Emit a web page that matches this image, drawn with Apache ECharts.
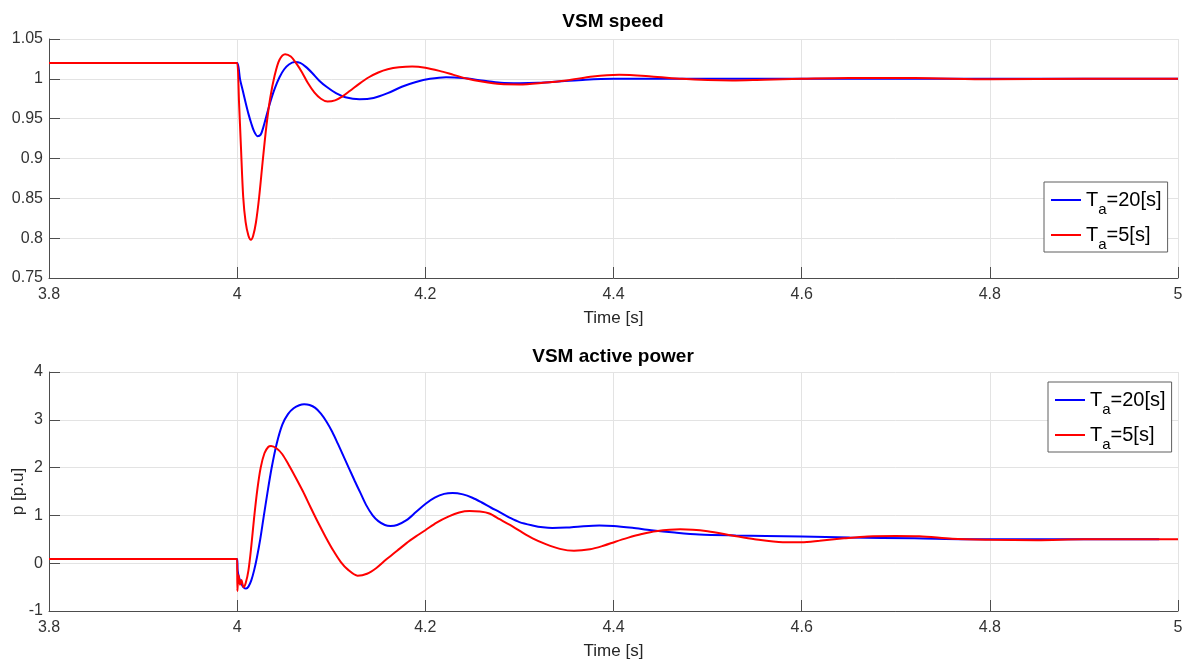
<!DOCTYPE html>
<html lang="en">
<head>
  <meta charset="UTF-8">
  <title>VSM speed / active power</title>
  <style>
    html, body { margin: 0; padding: 0; background: #fff; }
    #chart { width: 1192px; height: 665px; }
  </style>
</head>
<body>
  <div id="chart"></div>

  <script src="https://cdn.jsdelivr.net/npm/echarts@6/dist/echarts.min.js"></script>
  <script>
    // x axis (time, s)
    var timeMin = 3.8, timeMax = 5, timeStep = 0.2;

    // VSM speed, Ta = 20 s
    var speedSlowTime = [3.8, 3.998, 4.0, 4.0015, 4.003, 4.006, 4.009, 4.012, 4.015, 4.018, 4.0216, 4.025, 4.028,
      4.031, 4.035, 4.04, 4.045, 4.05, 4.055, 4.061, 4.067, 4.073, 4.08, 4.087, 4.095, 4.105, 4.115, 4.13, 4.145,
      4.16, 4.175, 4.19, 4.205, 4.222, 4.24, 4.26, 4.28, 4.3, 4.32, 4.345, 4.37, 4.4, 4.5, 4.6, 4.7, 4.8, 4.9, 5.0];
    var speedSlow = [1.02, 1.02, 1.02, 1.014, 1.0, 0.985, 0.97, 0.956, 0.944, 0.934, 0.928, 0.93, 0.94,
      0.953, 0.97, 0.988, 1.002, 1.012, 1.018, 1.021, 1.02, 1.015, 1.007, 0.998, 0.99, 0.982, 0.977, 0.9745, 0.976,
      0.982, 0.99, 0.996, 1.0, 1.002, 1.001, 0.998, 0.995, 0.9944, 0.995, 0.997, 0.999, 1.0, 1.0, 1.0, 1.0, 1.0, 1.0, 1.0];

    // VSM speed, Ta = 5 s
    var speedFastTime = [3.8, 3.998, 4.0, 4.002, 4.004, 4.0064, 4.009, 4.012, 4.0146, 4.017, 4.02, 4.0234, 4.027,
      4.031, 4.035, 4.04, 4.045, 4.051, 4.057, 4.063, 4.069, 4.075, 4.082, 4.089, 4.096, 4.104, 4.112, 4.12, 4.13,
      4.14, 4.15, 4.16, 4.172, 4.186, 4.2, 4.215, 4.23, 4.245, 4.26, 4.28, 4.3, 4.325, 4.35, 4.378, 4.406, 4.44,
      4.473, 4.5, 4.526, 4.56, 4.6, 4.65, 4.72, 4.8, 4.9, 5.0];
    var speedFast = [1.02, 1.02, 1.02, 0.97, 0.915, 0.852, 0.82, 0.803, 0.798, 0.803, 0.82, 0.852, 0.895,
      0.94, 0.975, 1.005, 1.024, 1.031, 1.028, 1.019, 1.008, 0.995, 0.983, 0.975, 0.9715, 0.973, 0.978, 0.985, 0.994,
      1.002, 1.008, 1.012, 1.0145, 1.0155, 1.014, 1.01, 1.005, 1.0, 0.9966, 0.9935, 0.993, 0.995, 0.998, 1.003, 1.005, 1.003,
      1.0, 0.9985, 0.998, 0.999, 1.0, 1.001, 1.001, 0.9995, 1.0, 1.0];

    // VSM active power, Ta = 20 s
    var powerSlowTime = [3.8, 3.998, 4.0, 4.0005, 4.002, 4.0045, 4.007, 4.0095, 4.012, 4.015, 4.018, 4.021, 4.0245,
      4.028, 4.032, 4.0365, 4.042, 4.048, 4.054, 4.06, 4.066, 4.0712, 4.077, 4.083, 4.089, 4.095, 4.101, 4.107,
      4.113, 4.119, 4.125, 4.131, 4.137, 4.144, 4.15, 4.157, 4.163, 4.17, 4.18, 4.19, 4.2, 4.21, 4.22, 4.229,
      4.24, 4.25, 4.26, 4.27, 4.279, 4.29, 4.3, 4.314, 4.325, 4.335, 4.35, 4.365, 4.385, 4.4, 4.42, 4.44, 4.465,
      4.491, 4.53, 4.562, 4.6, 4.651, 4.72, 4.8, 4.9, 4.98];
    var powerSlow = [0.087, 0.087, 0.087, -0.15, -0.3, -0.43, -0.51, -0.53, -0.49, -0.36, -0.15, 0.12, 0.5,
      0.95, 1.45, 1.98, 2.5, 2.9, 3.12, 3.24, 3.305, 3.325, 3.31, 3.25, 3.13, 2.96, 2.75, 2.5,
      2.24, 1.98, 1.72, 1.47, 1.22, 1.0, 0.88, 0.8, 0.78, 0.8, 0.9, 1.07, 1.24, 1.37, 1.45, 1.47,
      1.44, 1.37, 1.27, 1.16, 1.07, 0.95, 0.86, 0.79, 0.75, 0.735, 0.745, 0.77, 0.79, 0.78, 0.74, 0.69, 0.64,
      0.6, 0.58, 0.57, 0.56, 0.54, 0.52, 0.5, 0.5, 0.5];

    // VSM active power, Ta = 5 s
    var powerFastTime = [3.8, 3.998, 4.0, 4.0002, 4.0015, 4.003, 4.0045, 4.0067, 4.009, 4.012, 4.015, 4.018, 4.0215,
      4.025, 4.029, 4.033, 4.036, 4.042, 4.048, 4.055, 4.062, 4.07, 4.078, 4.086, 4.094, 4.102, 4.11, 4.118, 4.128,
      4.138, 4.148, 4.158, 4.17, 4.18, 4.19, 4.2, 4.212, 4.225, 4.236, 4.247, 4.258, 4.268, 4.279, 4.29, 4.3,
      4.314, 4.328, 4.343, 4.358, 4.375, 4.39, 4.402, 4.415, 4.43, 4.445, 4.471, 4.5, 4.526, 4.55, 4.58, 4.6,
      4.619, 4.645, 4.67, 4.7, 4.725, 4.76, 4.8, 4.85, 4.9, 5.0];
    var powerFast = [0.087, 0.087, 0.087, -0.58, -0.25, -0.45, -0.35, -0.5, -0.42, -0.15, 0.35, 0.95, 1.55,
      2.0, 2.3, 2.43, 2.45, 2.4, 2.28, 2.05, 1.8, 1.5, 1.17, 0.85, 0.55, 0.27, 0.03, -0.14, -0.26,
      -0.22, -0.1, 0.07, 0.26, 0.42, 0.56, 0.69, 0.85, 0.98, 1.06, 1.09, 1.08, 1.04, 0.92, 0.8, 0.68,
      0.52, 0.4, 0.3, 0.26, 0.29, 0.37, 0.45, 0.53, 0.61, 0.67, 0.71, 0.67, 0.58, 0.5, 0.44, 0.44,
      0.47, 0.52, 0.56, 0.57, 0.565, 0.51, 0.49, 0.48, 0.5, 0.5];

    var nameSlow = 'Ta=20[s]';
    var nameFast = 'Ta=5[s]';

    function zip(t, v) {
      return t.map(function (x, i) { return [x, v[i]]; });
    }

    var font = 'Liberation Sans, Arial, sans-serif';
    var axisColor = '#4d4d4d';
    var gridColor = '#e3e3e3';

    function timeAxis(gridIndex) {
      return {
        type: 'value', gridIndex: gridIndex,
        min: timeMin, max: timeMax, interval: timeStep,
        name: 'Time [s]', nameLocation: 'middle', nameGap: 32,
        nameTextStyle: { fontFamily: font, fontSize: 17, color: '#262626' },
        axisLine: { show: true, onZero: false, lineStyle: { color: axisColor, width: 1 } },
        axisTick: { show: true, inside: true, length: 11, lineStyle: { color: axisColor } },
        axisLabel: { fontFamily: font, fontSize: 16, color: '#333', margin: 9 },
        splitLine: { show: true, lineStyle: { color: gridColor, width: 1 } }
      };
    }

    function valueAxis(gridIndex, min, max, step, name) {
      return {
        type: 'value', gridIndex: gridIndex,
        min: min, max: max, interval: step,
        name: name, nameLocation: 'middle', nameGap: 22, nameMoveOverlap: false,
        nameTextStyle: { fontFamily: font, fontSize: 17, color: '#262626' },
        axisLine: { show: true, onZero: false, lineStyle: { color: axisColor, width: 1 } },
        axisTick: { show: true, inside: true, length: 11, lineStyle: { color: axisColor } },
        axisLabel: { fontFamily: font, fontSize: 16, color: '#333', margin: 6 },
        splitLine: { show: true, lineStyle: { color: gridColor, width: 1 } }
      };
    }

    function legendBox(left, top) {
      return {
        orient: 'vertical', left: left, top: top,
        data: [nameSlow, nameFast],
        icon: 'rect', itemWidth: 30, itemHeight: 2, itemGap: 0,
        padding: [0, 6, 0, 7],
        borderColor: '#5f5f5f', borderWidth: 1, backgroundColor: '#fff',
        selectedMode: false,
        formatter: function (name) {
          return '{t|T}{s|a}{t|' + name.slice(2) + '}';
        },
        textStyle: {
          fontFamily: font, color: '#000',
          rich: {
            t: { fontFamily: font, fontSize: 20, lineHeight: 36, color: '#000' },
            s: { fontFamily: font, fontSize: 15, lineHeight: 15, color: '#000', verticalAlign: 'top', padding: [20, 0, 0, 0] }
          }
        }
      };
    }

    function line(name, color, xi, data) {
      return {
        name: name, type: 'line', xAxisIndex: xi, yAxisIndex: xi,
        data: data, symbol: 'none', smooth: 0.3,
        lineStyle: { color: color, width: 2 },
        itemStyle: { color: color }
      };
    }

    var chart = echarts.init(document.getElementById('chart'));

    chart.setOption({
      animation: false,
      backgroundColor: '#fff',
      title: [
        { text: 'VSM speed', left: 613, top: 12, textAlign: 'center', padding: 0,
          textStyle: { fontFamily: font, fontSize: 19, fontWeight: 'bold', color: '#000' } },
        { text: 'VSM active power', left: 613, top: 347, textAlign: 'center', padding: 0,
          textStyle: { fontFamily: font, fontSize: 19, fontWeight: 'bold', color: '#000' } }
      ],
      grid: [
        { left: 49, top: 39, width: 1129, height: 239, outerBoundsMode: 'none' },
        { left: 49, top: 372, width: 1129, height: 239, outerBoundsMode: 'none' }
      ],
      xAxis: [timeAxis(0), timeAxis(1)],
      yAxis: [valueAxis(0, 0.75, 1.05, 0.05, ''), valueAxis(1, -1, 4, 1, 'p [p.u]')],
      legend: [legendBox(1044, 182), legendBox(1048, 382)],
      series: [
        line(nameSlow, '#0000ff', 0, zip(speedSlowTime, speedSlow)),
        line(nameFast, '#ff0000', 0, zip(speedFastTime, speedFast)),
        line(nameSlow, '#0000ff', 1, zip(powerSlowTime, powerSlow)),
        line(nameFast, '#ff0000', 1, zip(powerFastTime, powerFast))
      ]
    });
  </script>
</body>
</html>
